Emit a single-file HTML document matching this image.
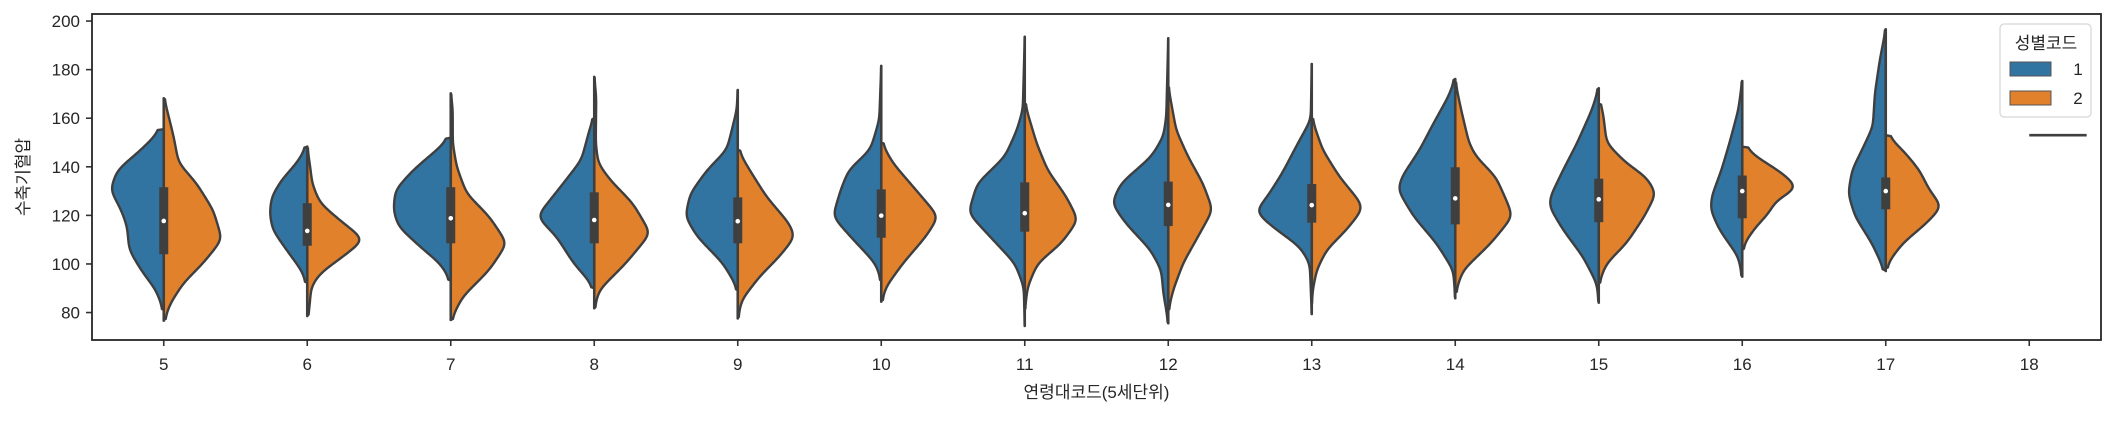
<!DOCTYPE html>
<html><head><meta charset="utf-8"><style>
body{margin:0;background:#fff}
svg text{font-family:"Liberation Sans","Noto Sans CJK KR",sans-serif;fill:#262626}
</style></head><body>
<svg id="chart" width="2115" height="416" xmlns="http://www.w3.org/2000/svg"></svg>
<script>
const categories = ['5','6','7','8','9','10','11','12','13','14','15','16','17','18'];
const yTicks = [80,100,120,140,160,180,200];
const seriesNames = ['1','2'];
// density profiles [value, relative density] for sex 1 (blue) and sex 2 (orange)
const blue5=[[155.5,0],[155.1,3],[147,23],[138.7,47],[130.5,54],[122.2,43],[115.4,37],[105.8,35],[97.5,23],[89.3,8],[81,0]];
const orange5=[[168.2,0],[164,3],[152.4,10],[141.6,15],[133.3,33],[122.2,50],[110,59],[100.4,40],[92.2,20],[84,7],[76.7,0]];
const blue6=[[148.3,0],[141.4,11],[134.6,26],[127.7,36],[120.9,38],[114,35],[105.8,21],[97.5,6],[92,0]];
const orange6=[[148,0],[140,3],[133,5],[125,13],[118,33],[110,58],[103,36],[96.2,13],[90.7,4],[81,2],[78.6,0]];
const blue7=[[152,0],[147,14],[138.7,38],[130.5,56],[122.2,58],[115.4,53],[107.1,31],[100.3,11],[94.8,2],[93,0]];
const orange7=[[170.2,0],[164,2],[149.7,2],[140,6],[129,16],[119.5,39],[108.5,57],[97.5,39],[86.5,12],[77,0]];
const blue8=[[160,0],[156.5,4],[142.8,13],[131.8,34],[119.5,58],[111.2,38],[100.3,21],[92,3],[90,0]];
const orange8=[[177,0],[168.8,2],[149.7,1.5],[141.4,4],[134.6,16],[125,39],[112.6,57],[100.3,32],[89.3,5],[81.8,0]];
const blue9=[[171.6,0],[163.4,1],[147,11],[138.7,31],[129,48],[119.5,53],[111.2,41],[100.3,15],[90.7,1],[89,0]];
const orange9=[[147,0],[138.7,12],[127.7,29],[116.7,52],[111.2,58],[103,42],[94.8,22],[85.2,4],[77.6,0]];
const blue10=[[181.5,0],[159.3,2],[147,11],[138.7,33],[130.5,41],[119.5,49],[111.2,31],[100.3,6],[94.8,1],[93,0]];
const orange10=[[150,0],[141.4,12],[130.5,35],[119.5,58],[111.2,45],[100.3,22],[90.7,5],[84.5,0]];
const blue11=[[193.5,0],[163.4,2],[155.1,8],[144.2,20],[133.2,48],[120.9,57],[111.2,35],[100.3,10],[90.7,1],[74.5,0]];
const orange11=[[166.1,0],[149.7,12],[138.7,23],[127.7,42],[118.1,54],[108.5,37],[100.3,13],[90.7,3],[81,0]];
const blue12=[[192.9,0],[160.6,2],[152.4,5],[144.2,17],[133.2,48],[125,57],[116.7,43],[105.8,18],[97.5,7],[88,5],[81,2],[75.6,0]];
const orange12=[[173,0],[155.1,8],[144.2,20],[133.2,35],[122.2,45],[111.2,30],[100.3,15],[89.3,5],[81,0]];
const blue13=[[182.3,0],[159.3,1],[149.7,14],[137.3,30],[127.7,45],[121.5,57],[115.4,40],[107.1,12],[100.3,2],[79.4,0]];
const orange13=[[160,0],[147,11],[135.9,28],[125,50],[122.2,51],[114,35],[105.8,15],[97.5,5],[89.3,1],[83.5,0]];
const blue14=[[176.1,0],[168.9,7],[157.9,22],[147,36],[135.9,54],[130.5,58],[119.5,42],[108.5,19],[97.5,2],[85.9,0]];
const orange14=[[175,0],[163.4,6],[149.7,14],[144.2,21],[135.9,41],[125,53],[119.5,58],[108.5,36],[97.5,8],[90.7,2],[88,0]];
const blue15=[[172.3,0],[163.4,7],[149.7,22],[138.7,36],[127.7,49],[123.6,50],[114,36],[103,16],[92,2],[84.1,0]];
const orange15=[[166,0],[163.4,4],[149.7,8],[141.4,28],[135.9,48],[129,58],[119.5,46],[108.5,28],[100.3,8],[93.4,1],[92,0]];
const blue16=[[175.3,0],[163.4,4],[149.7,13],[138.7,21],[127.7,31],[122.2,32],[114,23],[103,4],[94.8,0]];
const orange16=[[148.3,0],[144.2,14],[137.3,41],[131.2,57],[126.3,34],[120.9,27],[115.4,14],[108.5,2],[105.8,0]];
const blue17=[[196.6,0],[184,6],[170.2,11],[156.5,13],[147,24],[138.7,34],[129,38],[119.5,31],[108.5,14],[98.9,3],[97.1,0]];
const orange17=[[153,0],[152.4,2],[147,17],[138.7,34],[130.5,44],[123.6,57],[116.7,41],[108.5,17],[100.3,2],[98,0]];
const blueSeries=[blue5,blue6,blue7,blue8,blue9,blue10,blue11,blue12,blue13,blue14,blue15,blue16,blue17,null];
const orangeSeries=[orange5,orange6,orange7,orange8,orange9,orange10,orange11,orange12,orange13,orange14,orange15,orange16,orange17,null];
const q1Values=[104,107.5,108.5,108.5,108.5,110.8,113.3,115.6,117,116.3,117.2,118.8,122.5,null];
const q3Values=[131.6,125,131.6,129.5,127.4,130.7,133.6,133.9,132.9,139.8,135.1,136.4,135.6,null];
const medianValues=[117.7,113.6,118.8,118.1,117.6,119.9,120.9,124.3,124.2,127,126.6,130,130,null];
const singleValue18=153;

const NS='http://www.w3.org/2000/svg';
const svg=document.getElementById('chart');
const L=92,R=2101,T=14,B=340;
const yMin=68.7,yMax=202.9;
const ys=v=>B-(v-yMin)/(yMax-yMin)*(B-T);
const band=(R-L)/categories.length;
const xs=i=>L+band*(i+0.5);
const maxD=58,maxHalf=band*0.4;
const dens=d=>d/maxD*maxHalf;
function mk(tag,attrs,parent){const e=document.createElementNS(NS,tag);for(const k in attrs)e.setAttribute(k,attrs[k]);(parent||svg).appendChild(e);return e;}
function profile(s){
  const top=s[0][0],bot=s[s.length-1][0],step=0.4;
  const vals=[],raw=[];
  for(let v=top;v>=bot-1e-6;v-=step){
    let d=0;
    for(let k=0;k<s.length-1;k++){const a=s[k],b=s[k+1];if(v<=a[0]&&v>=b[0]){const t=(a[0]-v)/(a[0]-b[0]||1);d=a[1]+(b[1]-a[1])*t;break;}}
    vals.push(v);raw.push(d);
  }
  const sig=2.2,out=[];
  for(let i=0;i<vals.length;i++){
    let sw=0,sd=0;
    for(let j=Math.max(0,i-20);j<Math.min(vals.length,i+21);j++){const w=Math.exp(-Math.pow((vals[i]-vals[j])/sig,2)/2);sw+=w;sd+=w*raw[j];}
    out.push(sd/sw);
  }
  out[0]=raw[0];out[out.length-1]=raw[raw.length-1];
  return vals.map((v,i)=>[v,out[i]]);
}

yTicks.forEach(v=>{
  const t=mk('line',{x1:L-6,x2:L,y1:ys(v),y2:ys(v),stroke:'#333',"stroke-width":1.6});
  
  
  const tx=mk('text',{x:L-12,y:ys(v)+6,"text-anchor":"end","font-size":17});
  tx.textContent=v;
  
  
});
categories.forEach((c,i)=>{
  const t=mk('line',{x1:xs(i),x2:xs(i),y1:B,y2:B+6,stroke:'#333',"stroke-width":1.6});
  
  
  const tx=mk('text',{x:xs(i),y:B+30,"text-anchor":"middle","font-size":17});
  tx.textContent=c;
  
  
});

categories.forEach((c,i)=>{
  const cx=xs(i);
  const g=mk('g',{});
  
  
  [[blueSeries[i],-1,'#3274a1','blue'],[orangeSeries[i],1,'#e1812c','orange']].forEach(([s,dir,col,nm])=>{
    if(!s)return;
    const pr=profile(s);
    let d='M'+cx+','+ys(pr[0][0]);
    pr.forEach(p=>{d+=' L'+(cx+dir*dens(p[1])).toFixed(2)+','+ys(p[0]).toFixed(2);});
    d+=' L'+cx+','+ys(pr[pr.length-1][0])+' Z';
    const p=mk('path',{d:d,fill:col,stroke:'#3f3f3f',"stroke-width":2.4,"stroke-linejoin":"round"},g);
    
    
  });
  if(q1Values[i]!=null){
    const all=blueSeries[i].concat(orangeSeries[i]).map(p=>p[0]);
    const wl=mk('line',{x1:cx,x2:cx,y1:ys(Math.max(...all)),y2:ys(Math.min(...all)),stroke:'#3f3f3f',"stroke-width":2.6,"stroke-linecap":"round"},g);
    
    
    const bx=mk('rect',{x:cx-4.5,y:ys(q3Values[i]),width:9,height:ys(q1Values[i])-ys(q3Values[i]),fill:'#3f3f3f'},g);
    
    
    const md=mk('circle',{cx:cx,cy:ys(medianValues[i]),r:2.3,fill:'#fff'},g);
    
    
  } else {
    const ln=mk('line',{x1:cx,x2:cx+maxHalf,y1:ys(singleValue18),y2:ys(singleValue18),stroke:'#3f3f3f',"stroke-width":2.6},g);
    
    
  }
});

const frame=mk('rect',{x:L,y:T,width:R-L,height:B-T,fill:'none',stroke:'#262626',"stroke-width":1.8});



const xl=mk('text',{x:(L+R)/2,y:398,"text-anchor":"middle","font-size":17});
xl.textContent='연령대코드(5세단위)';


const yl=mk('text',{x:0,y:0,"text-anchor":"middle","font-size":17,transform:'translate(29,177) rotate(-90)'});
yl.textContent='수축기혈압';



const lg=mk('g',{});


mk('rect',{x:2000,y:24,width:91,height:93,rx:4,fill:'#fff',"fill-opacity":0.8,stroke:'#d6d6d6',"stroke-width":1.2},lg);
const lt=mk('text',{x:2046,y:49,"text-anchor":"middle","font-size":17},lg);
lt.textContent='성별코드';


[['#3274a1',62],['#e1812c',91]].forEach(([col,yy],k)=>{
  const r=mk('rect',{x:2010,y:yy,width:41,height:14,fill:col,stroke:'#555',"stroke-width":1},lg);
  
  
  const t=mk('text',{x:2078,y:yy+13,"text-anchor":"middle","font-size":17},lg);
  t.textContent=seriesNames[k];
  
  
});
</script>
</body></html>
